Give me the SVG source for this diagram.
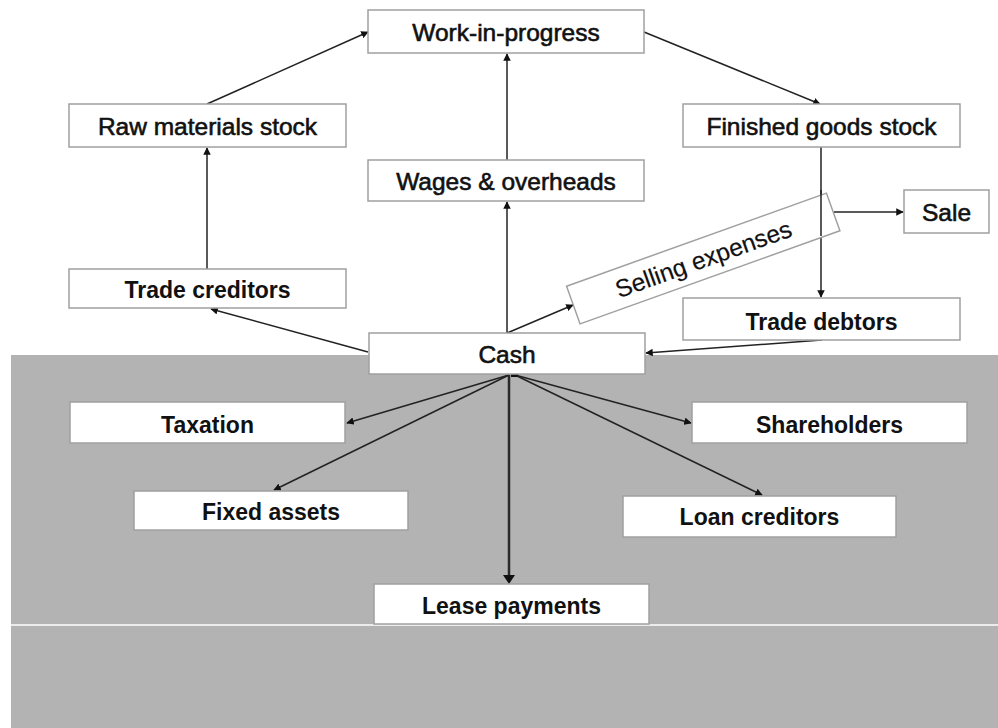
<svg xmlns="http://www.w3.org/2000/svg" width="998" height="728" viewBox="0 0 998 728">
<style>
.box{fill:#ffffff;stroke:#a0a0a0;stroke-width:1.5}
.t{font-family:"Liberation Sans",Arial,sans-serif;font-size:24.5px;fill:#111;stroke:#111;stroke-width:0.6;text-anchor:middle}
.s{font-family:"Liberation Sans",Arial,sans-serif;font-size:24.5px;fill:#111;stroke:#111;stroke-width:0.2;text-anchor:middle}
.b{font-family:"Liberation Sans",Arial,sans-serif;font-size:23px;font-weight:bold;fill:#111;text-anchor:middle}
.c{fill:none;stroke:#222;stroke-width:1.5;marker-end:url(#ah)}
</style>
<defs>
<marker id="ah" viewBox="0 0 10 10" refX="9" refY="5" markerWidth="5" markerHeight="5" orient="auto" markerUnits="strokeWidth">
<path d="M0,0 L10,5 L0,10 z" fill="#111"/>
</marker>
</defs>
<rect x="0" y="0" width="998" height="728" fill="#ffffff"/>
<rect x="11" y="355" width="987" height="373" fill="#b3b3b3"/>
<line x1="11" y1="625" x2="998" y2="625" stroke="#ffffff" stroke-width="1.5"/>

<g id="connectors">
<line class="c" x1="207" y1="104" x2="368" y2="32"/>
<line class="c" x1="207" y1="269" x2="207" y2="148"/>
<line class="c" x1="368" y1="352" x2="211" y2="309"/>
<line class="c" x1="507" y1="333" x2="507" y2="202"/>
<line class="c" x1="507" y1="160" x2="507" y2="54"/>
<line class="c" x1="644" y1="32" x2="820" y2="104"/>
<line class="c" x1="821" y1="147" x2="821" y2="297"/>
<line class="c" x1="507" y1="333" x2="573" y2="305"/>
<line class="c" x1="834" y1="212" x2="903" y2="212"/>
<line class="c" x1="822" y1="340" x2="646" y2="353"/>
<line class="c" x1="509" y1="375" x2="347" y2="423"/>
<line class="c" x1="509" y1="375" x2="274" y2="490"/>
<line x1="509" y1="375" x2="509" y2="576" stroke="#2a2a2a" stroke-width="2.5"/>
<path d="M503,575 L515,575 L509,584 z" fill="#111"/>
<line class="c" x1="515" y1="375" x2="691" y2="423"/>
<line class="c" x1="515" y1="375" x2="762" y2="495"/>
<rect x="511" y="373" width="7" height="4" fill="#111"/>
</g>

<g id="wip"><rect class="box" x="368" y="10" width="276" height="43"/><text class="t" x="506" y="41">Work-in-progress</text></g>
<g id="raw"><rect class="box" x="69" y="104" width="277" height="43"/><text class="t" x="207.5" y="135">Raw materials stock</text></g>
<g id="wages"><rect class="box" x="368" y="160" width="276" height="41"/><text class="t" x="506" y="190">Wages &amp; overheads</text></g>
<g id="tcred"><rect class="box" x="69" y="269" width="277" height="39"/><text class="b" x="207.5" y="298">Trade creditors</text></g>
<g id="fgs"><rect class="box" x="683" y="104" width="277" height="43"/><text class="t" x="821.5" y="135">Finished goods stock</text></g>
<g id="sale"><rect class="box" x="904" y="190" width="85" height="43"/><text class="t" x="946.5" y="221">Sale</text></g>
<g id="sell" transform="translate(703.25,258.5) rotate(-19.7)"><rect class="box" x="-138" y="-20" width="276" height="40"/><text class="s" x="0" y="9">Selling expenses</text></g>
<line x1="821" y1="190" x2="821" y2="236" stroke="#222" stroke-width="1.5"/>
<g id="tdeb"><rect class="box" x="683" y="298" width="277" height="42"/><text class="b" x="821.5" y="330">Trade debtors</text></g>
<g id="cash"><rect class="box" x="369" y="333" width="276" height="41"/><text class="t" x="507" y="363">Cash</text></g>
<g id="tax"><rect class="box" x="70" y="402" width="275" height="41"/><text class="b" x="207.5" y="433">Taxation</text></g>
<g id="fixed"><rect class="box" x="134" y="491" width="274" height="39"/><text class="b" x="271" y="520">Fixed assets</text></g>
<g id="lease"><rect class="box" x="374" y="584" width="275" height="40"/><text class="b" x="511.5" y="614">Lease payments</text></g>
<g id="share"><rect class="box" x="692" y="402" width="275" height="41"/><text class="b" x="829.5" y="433">Shareholders</text></g>
<g id="loan"><rect class="box" x="623" y="496" width="273" height="41"/><text class="b" x="759.5" y="525">Loan creditors</text></g>
</svg>
